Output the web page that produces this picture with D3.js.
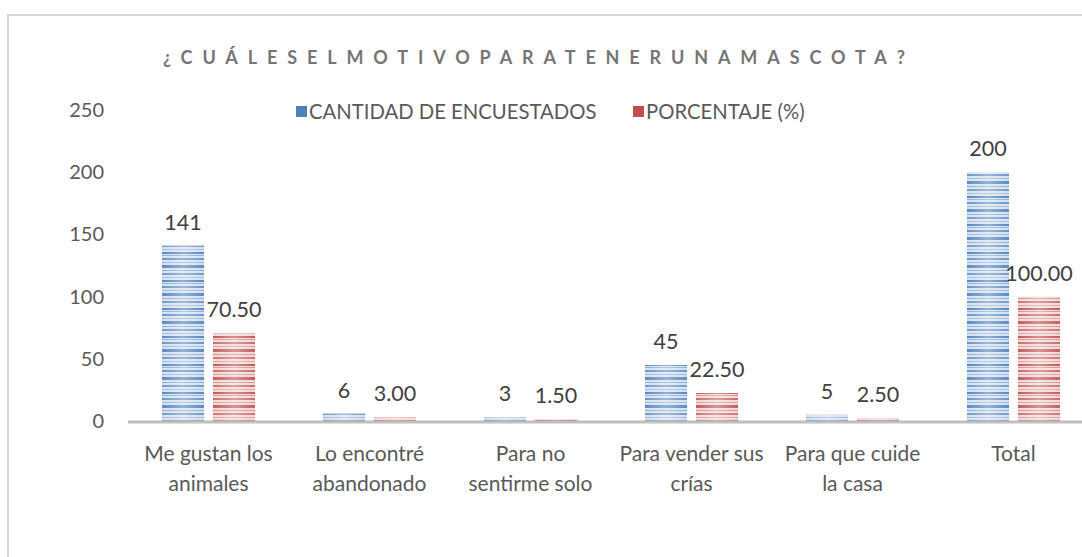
<!DOCTYPE html>
<html>
<head>
<meta charset="utf-8">
<script src="https://cdn.jsdelivr.net/npm/d3@7"></script>
<style>
  body { margin: 0; background: #fff; }
  svg { display: block; font-family: Lato, "Open Sans", sans-serif; }
</style>
</head>
<body>
<div id="chart"></div>
<script>
// data
const categories = [
    ["Me gustan los", "animales"],
    ["Lo encontré", "abandonado"],
    ["Para no", "sentirme solo"],
    ["Para vender sus", "crías"],
    ["Para que cuide", "la casa"],
    ["Total"]
];
const seriesNames = ["CANTIDAD DE ENCUESTADOS", "PORCENTAJE (%)"];
const cantidad = [141, 6, 3, 45, 5, 200];
const porcentaje = [70.5, 3, 1.5, 22.5, 2.5, 100];
const yTicks = [0, 50, 100, 150, 200, 250];
const title = "¿CUÁLESELMOTIVOPARATENERUNAMASCOTA?";

var width = 1082, height = 557;
var colors = [
    {base: "#d6e1f0", line: "#4f81bd"},
    {base: "#f2d9d8", line: "#c0504d"}
];
var textColor = "#595959";

var svg = d3.select("#chart").append("svg")
    .attr("width", width)
    .attr("height", height);

// stripe patterns like the Excel "horizontal lines" fill
var defs = svg.append("defs");
var stripes = [[0, 2, 0.95], [3, 1, 0.55], [6, 2, 0.8], [10, 1, 0.45], [13, 3, 0.9], [18, 1, 0.55], [21, 2, 0.75], [25, 1, 0.4]];
colors.forEach(function(c, i) {
    var p = defs.append("pattern")
        .attr("id", "stripe" + i)
        .attr("patternUnits", "userSpaceOnUse")
        .attr("width", 10)
        .attr("height", 28);
    p.append("rect").attr("width", 10).attr("height", 28).attr("fill", c.base);
    stripes.forEach(function(s) {
        p.append("rect")
            .attr("y", s[0]).attr("width", 10).attr("height", s[1])
            .attr("fill", c.line).attr("opacity", s[2]);
    });
});
var grad = defs.append("linearGradient").attr("id", "shine").attr("x1", "0%").attr("x2", "100%");
grad.append("stop").attr("offset", "0%").attr("stop-color", "#fff").attr("stop-opacity", 0);
grad.append("stop").attr("offset", "50%").attr("stop-color", "#fff").attr("stop-opacity", 0.35);
grad.append("stop").attr("offset", "100%").attr("stop-color", "#fff").attr("stop-opacity", 0);

// chart frame
svg.append("rect")
    .attr("x", 8).attr("y", 15)
    .attr("width", 1100).attr("height", 600)
    .attr("fill", "none")
    .attr("stroke", "#d9d9d9")
    .attr("stroke-width", 2);

// title
svg.append("text")
    .attr("x", 163)
    .attr("y", 64)
    .attr("textLength", 742)
    .attr("lengthAdjust", "spacing")
    .attr("fill", "#757575")
    .attr("font-size", "18px")
    .attr("font-weight", "bold")
    .text(title);

// scales
var x0 = d3.scaleBand()
    .domain(d3.range(categories.length))
    .range([128, 1094]);
var x1 = d3.scaleBand()
    .domain([0, 1])
    .range([34, 127])
    .paddingInner(0.176);
var y = d3.scaleLinear()
    .domain([0, 250])
    .range([421, 110]);

// y axis labels (no line)
var yAxis = svg.append("g")
    .attr("transform", "translate(104,0)")
    .call(d3.axisLeft(y).tickValues(yTicks).tickSize(0).tickPadding(0));
yAxis.select(".domain").remove();
yAxis.selectAll("text")
    .attr("fill", textColor)
    .attr("font-size", "20px")
    .attr("font-family", "Lato, sans-serif");

// bars
var series = [cantidad, porcentaje];
var groups = svg.selectAll(".grp")
    .data(categories)
    .join("g")
    .attr("class", "grp")
    .attr("transform", function(d, i) { return "translate(" + x0(i) + ",0)"; });

series.forEach(function(vals, s) {
    groups.append("rect")
        .attr("x", x1(s))
        .attr("y", function(d, i) { return y(vals[i]); })
        .attr("width", x1.bandwidth())
        .attr("height", function(d, i) { return y(0) - y(vals[i]); })
        .attr("fill", "url(#stripe" + s + ")");
    groups.append("rect")
        .attr("x", x1(s))
        .attr("y", function(d, i) { return y(vals[i]); })
        .attr("width", x1.bandwidth())
        .attr("height", function(d, i) { return y(0) - y(vals[i]); })
        .attr("fill", "url(#shine)");
    groups.append("text")
        .attr("x", x1(s) + x1.bandwidth() / 2)
        .attr("y", function(d, i) { return y(vals[i]) - 16; })
        .attr("text-anchor", "middle")
        .attr("fill", "#404040")
        .attr("font-size", "21.5px")
        .text(function(d, i) { return s == 0 ? vals[i] : vals[i].toFixed(2); });
});

// x axis line
svg.append("line")
    .attr("x1", 128).attr("x2", width)
    .attr("y1", y(0) + 1).attr("y2", y(0) + 1)
    .attr("stroke", "#bfbfbf")
    .attr("stroke-width", 3);

// category labels
var cat = svg.selectAll(".cat")
    .data(categories)
    .join("text")
    .attr("class", "cat")
    .attr("text-anchor", "middle")
    .attr("fill", textColor)
    .attr("font-size", "21px")
    .attr("transform", function(d, i) { return "translate(" + (x0(i) + x0.bandwidth() / 2) + ",461)"; });
cat.selectAll("tspan")
    .data(function(d) { return d; })
    .join("tspan")
    .attr("x", 0)
    .attr("dy", function(d, i) { return i == 0 ? 0 : 30; })
    .text(function(d) { return d; });

// legend
var legend = svg.append("g");
var legX = [296, 633];
seriesNames.forEach(function(n, i) {
    legend.append("rect")
        .attr("x", legX[i]).attr("y", 106)
        .attr("width", 11).attr("height", 11)
        .attr("fill", colors[i].line);
    legend.append("text")
        .attr("x", legX[i] + 13).attr("y", 119)
        .attr("fill", textColor)
        .attr("font-size", "20.3px")
        .text(n);
});
</script>
</body>
</html>
